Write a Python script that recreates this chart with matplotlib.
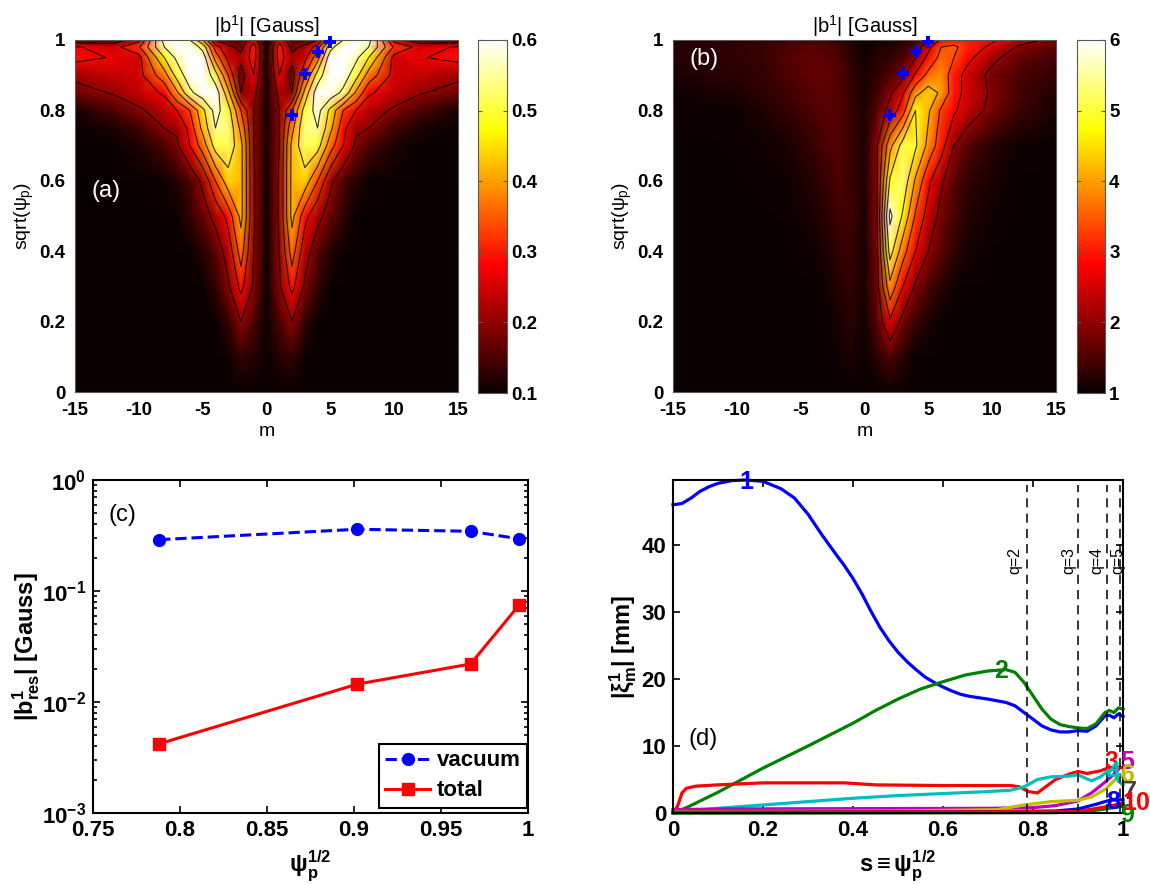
import numpy as np
import matplotlib
matplotlib.use('Agg')
import matplotlib.pyplot as plt

plt.rcParams['font.family'] = ['Liberation Sans', 'DejaVu Sans']
plt.rcParams['mathtext.fontset'] = 'custom'
plt.rcParams['mathtext.rm'] = 'Liberation Sans'
plt.rcParams['mathtext.it'] = 'Liberation Sans'
plt.rcParams['mathtext.bf'] = 'Liberation Sans:bold'
plt.rcParams['axes.unicode_minus'] = False

# panel (a): values read for m >= 0, the picture is close to mirror symmetric
m_a = [0, 1, 2, 3, 4, 5, 6, 7, 8, 10, 12, 15]
s_a = [0, .1, .2, .3, .4, .5, .6, .7, .75, .8, .85, .9, .95, .98, 1]
b_a = [
    [.08, .09, .09, .08, .08, .07, .07, .07, .07, .07, .07, .07],
    [.08, .12, .13, .10, .08, .07, .07, .07, .07, .07, .07, .07],
    [.09, .15, .20, .13, .10, .08, .07, .07, .07, .07, .07, .07],
    [.09, .19, .29, .19, .13, .10, .08, .07, .07, .07, .07, .07],
    [.10, .20, .36, .23, .16, .12, .10, .08, .08, .07, .07, .07],
    [.10, .21, .42, .29, .22, .17, .13, .10, .09, .08, .07, .07],
    [.105, .21, .42, .44, .33, .215, .15, .12, .105, .09, .08, .075],
    [.11, .20, .42, .52, .50, .36, .27, .19, .15, .115, .10, .085],
    [.11, .20, .38, .53, .55, .42, .29, .21, .20, .14, .115, .095],
    [.11, .20, .33, .50, .58, .45, .33, .27, .23, .19, .15, .11],
    [.11, .22, .20, .42, .60, .60, .53, .39, .28, .235, .205, .175],
    [.10, .27, .17, .33, .50, .63, .60, .50, .37, .25, .24, .215],
    [.10, .30, .22, .25, .37, .60, .65, .57, .47, .25, .265, .29],
    [.10, .30, .18, .22, .30, .52, .62, .62, .55, .32, .25, .275],
    [.09, .25, .15, .15, .20, .40, .55, .60, .58, .25, .15, .15],
]

m_b = [-15, -12, -10, -8, -6, -4, -3, -2, -1, 0, 1, 2, 3, 4, 5, 6, 7, 8, 10, 12, 15]
s_b = [0, .1, .2, .3, .4, .5, .6, .7, .8, .85, .9, .95, .98, 1]
b_b = [
    [.9, .9, .9, .9, .9, .9, .95, .95, 1.0, .95, 1.0, 1.05, 1.0, .95, .9, .9, .9, .9, .9, .9, .9],
    [.95, .95, .95, .95, .95, .95, 1.0, 1.05, 1.15, 1.0, 1.25, 1.5, 1.2, 1.0, .95, .95, .95, .95, .95, .95, .95],
    [1.0, 1.0, 1.0, 1.0, 1.0, 1.0, 1.02, 1.1, 1.25, 1.05, 1.6, 2.6, 1.8, 1.35, 1.15, 1.0, 1.0, 1.0, 1.0, 1.0, 1.0],
    [1.0, 1.0, 1.0, 1.0, 1.0, 1.0, 1.05, 1.2, 1.3, 1.1, 1.8, 3.9, 2.7, 1.9, 1.5, 1.25, 1.05, 1.0, 1.0, 1.0, 1.0],
    [1.0, 1.0, 1.0, 1.0, 1.0, 1.05, 1.15, 1.3, 1.35, 1.1, 1.9, 5.1, 3.7, 2.7, 2.0, 1.6, 1.3, 1.1, 1.0, 1.0, 1.0],
    [1.0, 1.0, 1.0, 1.0, 1.02, 1.12, 1.25, 1.4, 1.4, 1.1, 2.0, 5.9, 4.7, 3.3, 2.4, 1.8, 1.45, 1.2, 1.05, 1.0, 1.0],
    [1.0, 1.0, 1.0, 1.02, 1.05, 1.2, 1.35, 1.5, 1.35, 1.15, 2.0, 4.9, 5.3, 4.0, 2.85, 2.1, 1.6, 1.3, 1.1, 1.0, 1.0],
    [1.0, 1.0, 1.02, 1.05, 1.12, 1.35, 1.5, 1.55, 1.35, 1.15, 2.0, 3.9, 5.1, 4.9, 3.9, 3.0, 2.0, 1.6, 1.2, 1.05, 1.0],
    [1.02, 1.03, 1.05, 1.15, 1.3, 1.5, 1.6, 1.55, 1.35, 1.15, 1.6, 2.2, 3.1, 4.8, 4.2, 3.3, 2.8, 2.4, 1.8, 1.4, 1.1],
    [1.05, 1.1, 1.15, 1.25, 1.4, 1.6, 1.6, 1.55, 1.35, 1.1, 1.4, 1.9, 2.6, 3.9, 4.4, 4.0, 3.0, 2.5, 1.9, 1.45, 1.15],
    [1.15, 1.2, 1.25, 1.3, 1.5, 1.65, 1.65, 1.55, 1.3, 1.1, 1.3, 1.5, 1.8, 2.8, 3.6, 3.9, 3.0, 2.5, 1.8, 1.5, 1.3],
    [1.2, 1.25, 1.3, 1.35, 1.55, 1.65, 1.6, 1.5, 1.25, 1.05, 1.2, 1.3, 1.5, 2.0, 2.9, 3.6, 3.4, 2.9, 2.15, 1.7, 1.4],
    [1.2, 1.25, 1.3, 1.35, 1.5, 1.6, 1.55, 1.4, 1.2, 1.05, 1.15, 1.2, 1.3, 1.6, 2.5, 3.4, 3.55, 3.1, 2.55, 1.95, 1.6],
    [1.15, 1.2, 1.2, 1.3, 1.4, 1.5, 1.4, 1.3, 1.15, 1.0, 1.1, 1.1, 1.2, 1.3, 2.0, 2.8, 3.0, 3.0, 2.8, 2.3, 1.8],
]

res_m = [2, 3, 4, 5]
res_s = [.788, .902, .967, .995]

vacuum_b = [.29, .36, .345, .295]
total_b = [.0042, .0145, .022, .075]

s1 = [0, .02, .04, .06, .08, .1, .13, .16, .2, .24, .27, .3, .33, .36, .38, .4, .42, .44, .46, .48, .5, .52, .54, .56, .58, .6, .62, .64, .66, .7, .74, .76, .78, .8, .82, .84, .86, .88, .9, .92, .94, .96, .97, .98, .99, 1]
xi1 = [46, 46.2, 47, 48, 48.7, 49.2, 49.6, 49.7, 49.5, 48.4, 47, 44.6, 41.6, 38.8, 37, 35, 32.7, 30.1, 27.7, 25.7, 24, 22.6, 21.4, 20.3, 19.5, 18.8, 18.2, 17.7, 17.4, 17, 16.5, 16, 15, 14, 13, 12.4, 12.1, 12.1, 12.3, 12.2, 13, 14.5, 14.6, 14.2, 14.8, 14.4]
s2 = [0, .03, .1, .2, .3, .4, .45, .5, .55, .6, .65, .7, .74, .76, .78, .8, .82, .84, .86, .88, .9, .92, .94, .96, .97, .98, .99, 1]
xi2 = [0, .8, 3.1, 6.7, 10, 13.4, 15.3, 17, 18.5, 19.6, 20.6, 21.2, 21.4, 21, 19.5, 17.5, 15.5, 14, 13.2, 12.9, 12.7, 12.6, 13.3, 15, 15.3, 15, 15.7, 15.5]
s3 = [0, .01, .02, .03, .05, .1, .2, .3, .38, .45, .6, .75, .77, .79, .81, .83, .85, .88, .9, .92, .95, .97, 1]
xi3 = [0, 1, 3, 3.7, 4, 4.2, 4.5, 4.5, 4.5, 4.2, 4.1, 4.1, 3.9, 3.2, 3, 4, 5, 5.8, 6.2, 5.9, 6.3, 6.8, 6.8]
s4 = [0, .1, .2, .3, .4, .5, .6, .7, .75, .78, .81, .84, .88, .9, .93, .95, .97, .98, .99, 1]
xi4 = [0, .7, 1.2, 1.7, 2.2, 2.6, 2.9, 3.2, 3.4, 3.9, 5, 5.4, 5.5, 5.7, 4.8, 5.4, 6.5, 6.4, 4.7, 4.2]
s5 = [0, .1, .7, .8, .85, .9, .93, .96, .98, .99]
xi5 = [.5, .6, .7, .8, 1.1, 1.8, 3, 4.6, 5.8, 6.5]
s6 = [0, .5, .72, .78, .84, .9, .93, .96, .98, .99, 1]
xi6 = [.2, .3, .5, 1.2, 1.7, 1.9, 2.4, 3.5, 4.8, 5.6, 5.4]
s7 = [0, .85, .95, 1]
xi7 = [0, .05, .6, 1.5]
s8 = [0, .7, .85, .9, .94, .97, 1]
xi8 = [.1, .2, .3, .6, 1.3, 1.9, 2]
s9 = [0, .9, .95, 1]
xi9 = [0, .1, .5, 1]
s10 = [0, .9, .95, 1]
xi10 = [.1, .2, .8, 1.4]

q_s = [.787, .901, .965, .994]
q_labels = ['q=2', 'q=3', 'q=4', 'q=5']
q_label_x = [.76, .88, .942, .989]

mode_labels = ['1', '2', '3', '4', '5', '6', '7', '8', '9', '10']
mode_label_x = [.162, .729, .975, .978, 1.01, 1.01, 1.015, .978, 1.01, 1.03]
mode_label_y = [49.4, 21.2, 7.6, 6, 7.6, 5.7, 3.2, 1.6, -.3, 1.5]
mode_colors = ['b', (0, .5, 0), 'r', (0, .75, .75), (.75, 0, .75), (.75, .75, 0),
               (.25, .25, .25), 'b', (0, .5, 0), 'r']

W, H = 1150, 885


def axes_px(left, top, right, bottom):
    return fig.add_axes([left / W, 1 - bottom / H, (right - left) / W, (bottom - top) / H])


def heat_panel(box, cbox, m, s, z, vmin, vmax, levels, cticks, tag, tag_x, tag_y):
    ax = axes_px(*box)
    mesh = ax.pcolormesh(m, s, z, shading='gouraud', cmap='hot', vmin=vmin, vmax=vmax)
    ax.contour(m, s, z, levels=levels, colors='k', linewidths=0.8, alpha=0.8)
    ax.plot(res_m, res_s, 'P', color='b', ms=8.5, mew=0, clip_on=False, zorder=5)
    ax.set_xlim(-15, 15)
    ax.set_ylim(0, 1)
    ax.set_xticks(range(-15, 16, 5))
    ax.set_yticks([0, .2, .4, .6, .8, 1])
    ax.set_yticklabels(['0', '0.2', '0.4', '0.6', '0.8', '1'])
    ax.tick_params(direction='in', length=0, labelsize=13.5, pad=7)
    for lab in ax.get_xticklabels() + ax.get_yticklabels():
        lab.set_fontweight('bold')
    for sp in ax.spines.values():
        sp.set_color('0.35')
    ax.set_xlabel('m', fontsize=14, labelpad=3)
    ax.set_ylabel(r'sqrt($\psi_p$)', fontsize=14, labelpad=2)
    ax.set_title(r'|b$^1$| [Gauss]', fontsize=14.5, pad=5)
    ax.text(tag_x, tag_y, tag, color='w', fontsize=17, ha='center', va='center')
    cax = axes_px(*cbox)
    cb = fig.colorbar(mesh, cax=cax, ticks=cticks)
    cb.ax.tick_params(direction='in', length=3, left=True, right=True, color='0.35', labelsize=13.5, pad=3)
    for lab in cb.ax.get_yticklabels():
        lab.set_fontweight('bold')
    cb.outline.set_edgecolor('0.35')


fig = plt.figure(figsize=(W / 100, H / 100), dpi=100)

m_full = np.r_[-np.array(m_a[:0:-1]), m_a]
z_a = np.array(b_a)
z_a = np.hstack([z_a[:, :0:-1], z_a])
heat_panel((75, 40, 458, 392), (478, 40, 507, 393), m_full, s_a, z_a, .1, .6,
           [.2, .27, .33, .4, .47, .55], [.1, .2, .3, .4, .5, .6], '(a)', -12.6, .57)
heat_panel((673, 40, 1056, 392), (1077, 40, 1105, 393), m_b, s_b, np.array(b_b), 1, 6,
           [2, 2.7, 3.4, 4.1, 4.8, 5.7], [1, 2, 3, 4, 5, 6], '(b)', -12.6, .945)

# panel (c)
ax = axes_px(93, 480, 528, 813)
ax.semilogy(res_s, vacuum_b, '--o', color='b', lw=2.2, ms=8.5, label='vacuum')
ax.semilogy(res_s, total_b, '-s', color='r', lw=2.2, ms=8.5, label='total')
ax.set_xlim(.75, 1)
ax.set_ylim(1e-3, 1)
ax.set_xticks([.75, .8, .85, .9, .95, 1])
ax.set_xticklabels(['0.75', '0.8', '0.85', '0.9', '0.95', '1'])
ax.set_yticks([1e-3, 1e-2, 1e-1, 1])
ax.set_yticklabels([r'$\mathbf{10^{-3}}$', r'$\mathbf{10^{-2}}$', r'$\mathbf{10^{-1}}$', r'$\mathbf{10^{0}}$'])
ax.tick_params(which='both', direction='in', top=True, right=True, width=1.2)
ax.tick_params(which='major', length=5, labelsize=16, pad=5)
ax.tick_params(which='minor', length=3)
for lab in ax.get_xticklabels():
    lab.set_fontweight('bold')
for sp in ax.spines.values():
    sp.set_linewidth(1.5)
ax.set_xlabel(r'$\mathbf{\psi_p^{1/2}}$', fontsize=17, labelpad=5)
ax.set_ylabel(r'$\mathbf{|b^1_{res}|\ [Gauss]}$', fontsize=17, labelpad=0)
ax.text(.759, .484, '(c)', fontsize=17, ha='left', va='center')
leg = ax.legend(loc='lower right', bbox_to_anchor=(.998, .015), borderaxespad=0,
                prop={'weight': 'bold', 'size': 16}, fancybox=False, framealpha=1, edgecolor='k',
                borderpad=.3, handlelength=2.0, handletextpad=.3, labelspacing=.4)
leg.get_frame().set_linewidth(1.5)

# panel (d)
ax = axes_px(673, 480, 1123, 813)
curves = [(s1, xi1), (s2, xi2), (s3, xi3), (s4, xi4), (s5, xi5),
          (s6, xi6), (s7, xi7), (s8, xi8), (s9, xi9), (s10, xi10)]
for (xs, ys), col in zip(curves, mode_colors):
    ax.plot(xs, ys, color=col, lw=2.3, clip_on=False)
for x, lab, tx in zip(q_s, q_labels, q_label_x):
    ax.plot([x, x], [0, 49], 'k--', lw=1.1, dashes=(6, 4))
    ax.text(tx, 37.7, lab, rotation=90, fontsize=11.5, ha='center', va='center')
for lab, x, y, col in zip(mode_labels, mode_label_x, mode_label_y, mode_colors):
    ax.text(x, y, lab, color=col, fontsize=18, fontweight='bold', ha='center', va='center', clip_on=False)
ax.set_xlim(0, 1)
ax.set_ylim(0, 49.7)
ax.set_xticks([0, .2, .4, .6, .8, 1])
ax.set_xticklabels(['0', '0.2', '0.4', '0.6', '0.8', '1'])
ax.set_yticks([0, 10, 20, 30, 40])
ax.tick_params(direction='in', top=True, right=True, length=5, width=1.2, labelsize=16, pad=5)
for lab in ax.get_xticklabels() + ax.get_yticklabels():
    lab.set_fontweight('bold')
for sp in ax.spines.values():
    sp.set_linewidth(1.5)
ax.set_xlabel(r'$\mathbf{s\equiv\psi_p^{1/2}}$', fontsize=17, labelpad=5)
ax.set_ylabel(r'$\mathbf{|\xi^1_m|\ [mm]}$', fontsize=17, labelpad=2)
ax.text(.035, 11, '(d)', fontsize=17, ha='left', va='center')

fig.savefig('out.png', dpi=100)
